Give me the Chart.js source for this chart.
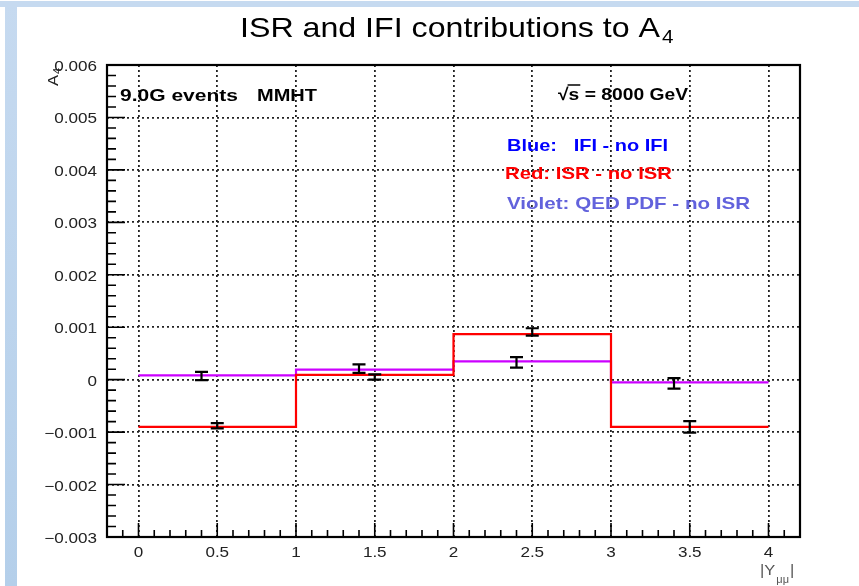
<!DOCTYPE html>
<html>
<head>
<meta charset="utf-8">
<script src="https://cdn.jsdelivr.net/npm/chart.js@4/dist/chart.umd.min.js"></script>
<style>
  html, body { margin: 0; padding: 0; background: #fff; overflow: hidden; }
  canvas { display: block; }
</style>
</head>
<body>
<canvas id="chart" width="859" height="586"></canvas>
<script>
// histogram bins (|Y| edges) and bin contents
const binEdges = [0, 1, 2, 3, 4];
const isrHist = [-0.0009, 0.00009, 0.00087, -0.0009];
const qedHist = [0.00008, 0.00019, 0.00035, -0.00005];

// points with error bars
const isrPtX = [0.5, 1.5, 2.5, 3.5];
const isrPtY = [-0.00088, 0.00005, 0.00091, -0.0009];
const isrPtErr = [0.00005, 0.00005, 0.00007, 0.00011];
const qedPtX = [0.4, 1.4, 2.4, 3.4];
const qedPtY = [0.00007, 0.00021, 0.00033, -0.00007];
const qedPtErr = [0.00008, 0.00008, 0.0001, 0.0001];

// axis ticks
const xTicks = [0, 0.5, 1, 1.5, 2, 2.5, 3, 3.5, 4];
const xTickLabels = ['0', '0.5', '1', '1.5', '2', '2.5', '3', '3.5', '4'];
const yTicks = [-0.003, -0.002, -0.001, 0, 0.001, 0.002, 0.003, 0.004, 0.005, 0.006];
const yTickLabels = ['\u22120.003', '\u22120.002', '\u22120.001', '0', '0.001', '0.002', '0.003', '0.004', '0.005', '0.006'];

const FONT = '"Liberation Sans", Arial, Helvetica, sans-serif';

function histPoints(values) {
    return binEdges.map((x, i) => ({ x: x, y: values[Math.min(i, values.length - 1)] }));
}

function points(xs, ys) {
    return xs.map((x, i) => ({ x: x, y: ys[i] }));
}

// draw text squeezed/stretched horizontally
function drawText(ctx, str, x, y, size, weight, color, sx, align) {
    ctx.save();
    ctx.font = weight + ' ' + size + 'px ' + FONT;
    ctx.fillStyle = color;
    ctx.textAlign = align || 'left';
    ctx.textBaseline = 'alphabetic';
    ctx.translate(x, y);
    ctx.scale(sx, 1);
    ctx.fillText(str, 0, 0);
    const w = ctx.measureText(str).width * sx;
    ctx.restore();
    return w;
}

function fitText(ctx, str, x, y, size, weight, color, width) {
    ctx.save();
    ctx.font = weight + ' ' + size + 'px ' + FONT;
    const natural = ctx.measureText(str).width;
    ctx.restore();
    const sx = width / natural;
    drawText(ctx, str, x, y, size, weight, color, sx);
    return sx;
}

const backgroundPlugin = {
    id: 'background',
    beforeDraw(chart) {
        const ctx = chart.ctx;
        ctx.save();
        ctx.fillStyle = '#ffffff';
        ctx.fillRect(0, 0, chart.width, chart.height);
        ctx.fillStyle = '#c6daf0';
        ctx.fillRect(0, 1, chart.width, 6);
        const g = ctx.createLinearGradient(0, 0, 0, chart.height);
        g.addColorStop(0, '#c6daf0');
        g.addColorStop(1, '#b4cfea');
        ctx.fillStyle = g;
        ctx.fillRect(5, 7, 12, chart.height - 7);
        ctx.restore();
    }
};

const errorBarPlugin = {
    id: 'errorBars',
    afterDatasetsDraw(chart) {
        const ctx = chart.ctx;
        const yScale = chart.scales.y;
        ctx.save();
        ctx.strokeStyle = '#000';
        ctx.lineWidth = 2.2;
        chart.data.datasets.forEach((ds, i) => {
            if (!ds.errors) return;
            const meta = chart.getDatasetMeta(i);
            meta.data.forEach((pt, j) => {
                const v = ds.data[j].y;
                const top = yScale.getPixelForValue(v + ds.errors[j]);
                const bot = yScale.getPixelForValue(v - ds.errors[j]);
                ctx.beginPath();
                ctx.moveTo(pt.x, top);
                ctx.lineTo(pt.x, bot);
                ctx.moveTo(pt.x - 6.5, top);
                ctx.lineTo(pt.x + 6.5, top);
                ctx.moveTo(pt.x - 6.5, bot);
                ctx.lineTo(pt.x + 6.5, bot);
                ctx.stroke();
            });
        });
        ctx.restore();
    }
};

const framePlugin = {
    id: 'frame',
    afterDraw(chart) {
        const ctx = chart.ctx;
        const a = chart.chartArea;
        const xs = chart.scales.x;
        const ys = chart.scales.y;
        ctx.save();
        ctx.strokeStyle = '#000';

        // inner ticks
        ctx.lineWidth = 1.6;
        ctx.beginPath();
        for (let k = -2; k <= 42; k++) {
            const px = xs.getPixelForValue(k / 10);
            const len = (k % 5 === 0) ? 14 : 7;
            ctx.moveTo(px, a.bottom);
            ctx.lineTo(px, a.bottom - len);
        }
        for (let k = -15; k <= 30; k++) {
            const py = ys.getPixelForValue(k * 0.0002);
            const len = (k % 5 === 0) ? 18 : 9;
            ctx.moveTo(a.left, py);
            ctx.lineTo(a.left + len, py);
        }
        ctx.stroke();

        ctx.lineWidth = 2.2;
        ctx.strokeRect(a.left, a.top, a.right - a.left, a.bottom - a.top);

        // tick labels
        yTicks.forEach((v, i) => {
            drawText(ctx, yTickLabels[i], 97, ys.getPixelForValue(v) + 6, 14, 'normal', '#222', 1.22, 'right');
        });
        xTicks.forEach((v, i) => {
            drawText(ctx, xTickLabels[i], xs.getPixelForValue(v), 557, 14, 'normal', '#222', 1.22, 'center');
        });

        // title
        const tsx = fitText(ctx, 'ISR and IFI contributions to A', 240, 37, 28, 'normal', '#000', 420);
        drawText(ctx, '4', 662, 43, 18, 'normal', '#000', tsx);

        // y axis title
        ctx.save();
        ctx.translate(58, 86);
        ctx.rotate(-Math.PI / 2);
        const aw = drawText(ctx, 'A', 0, 0, 15, 'normal', '#222', 1.1);
        drawText(ctx, '4', aw + 1, 3, 10, 'normal', '#222', 1.1);
        ctx.restore();

        // x axis title
        const w1 = drawText(ctx, '|Y', 760, 575, 15, 'normal', '#555', 1.1);
        const w2 = drawText(ctx, '\u03bc\u03bc', 760 + w1 + 1, 583, 10, 'normal', '#555', 1.1);
        drawText(ctx, '|', 760 + w1 + w2 + 2, 575, 15, 'normal', '#555', 1.1);

        // annotations
        fitText(ctx, '9.0G events', 120, 101, 17, 'bold', '#000', 118);
        fitText(ctx, 'MMHT', 257, 101, 17, 'bold', '#000', 60);
        const ssx = fitText(ctx, '\u221as = 8000 GeV', 558, 100, 17, 'bold', '#000', 130);
        ctx.font = 'bold 17px ' + FONT;
        const rw = ctx.measureText('\u221a').width * ssx;
        const sw = ctx.measureText('s').width * ssx;
        ctx.lineWidth = 1.5;
        ctx.beginPath();
        ctx.moveTo(558 + rw - 1, 85);
        ctx.lineTo(558 + rw + sw + 1, 85);
        ctx.stroke();

        fitText(ctx, 'Blue:   IFI - no IFI', 507, 151, 17, 'bold', '#0000ff', 161);
        fitText(ctx, 'Red: ISR - no ISR', 505, 179, 17, 'bold', '#ff0000', 167);
        fitText(ctx, 'Violet: QED PDF - no ISR', 507, 209, 17, 'bold', '#6262dc', 243);

        ctx.restore();
    }
};

const ctx = document.getElementById('chart').getContext('2d');

const chart = new Chart(ctx, {
    type: 'line',
    data: {
        datasets: [
            {
                label: 'ISR - no ISR',
                data: histPoints(isrHist),
                stepped: true,
                borderColor: '#ff0000',
                borderWidth: 2.2,
                pointRadius: 0,
                fill: false
            },
            {
                label: 'QED PDF - no ISR',
                data: histPoints(qedHist),
                stepped: true,
                borderColor: '#cc00ff',
                borderWidth: 2.2,
                pointRadius: 0,
                fill: false
            },
            {
                label: 'ISR points',
                data: points(isrPtX, isrPtY),
                errors: isrPtErr,
                showLine: false,
                pointRadius: 0
            },
            {
                label: 'QED PDF points',
                data: points(qedPtX, qedPtY),
                errors: qedPtErr,
                showLine: false,
                pointRadius: 0
            }
        ]
    },
    options: {
        responsive: false,
        animation: false,
        layout: {
            padding: { left: 107, right: 59, top: 65, bottom: 49 }
        },
        plugins: {
            legend: { display: false },
            title: { display: false },
            tooltip: { enabled: false }
        },
        scales: {
            x: {
                type: 'linear',
                min: -0.2,
                max: 4.2,
                afterBuildTicks: s => { s.ticks = xTicks.map(v => ({ value: v })); },
                afterFit: s => { s.height = 0; },
                ticks: { display: false },
                grid: { color: '#222', lineWidth: 1.8, drawTicks: false },
                border: { display: false, dash: [2, 3] }
            },
            y: {
                min: -0.003,
                max: 0.006,
                afterBuildTicks: s => { s.ticks = yTicks.map(v => ({ value: v })); },
                afterFit: s => { s.width = 0; },
                ticks: { display: false },
                grid: { color: '#222', lineWidth: 1.8, drawTicks: false },
                border: { display: false, dash: [2, 3] }
            }
        }
    },
    plugins: [backgroundPlugin, errorBarPlugin, framePlugin]
});
</script>
</body>
</html>
